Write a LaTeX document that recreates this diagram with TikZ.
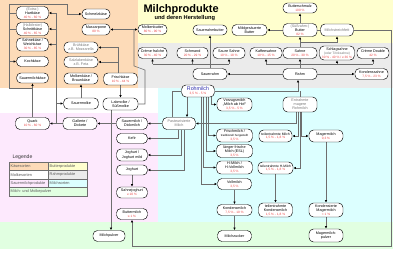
\documentclass[tikz,border=0pt]{standalone}
\usepackage{fontspec}
\setmainfont{Liberation Sans}
\usetikzlibrary{arrows.meta}
\definecolor{kaese}{RGB}{253,219,184}
\definecolor{butterc}{RGB}{255,255,206}
\definecolor{rahmc}{RGB}{235,235,235}
\definecolor{sauerc}{RGB}{253,233,253}
\definecolor{milchc}{RGB}{220,255,255}
\definecolor{pulverc}{RGB}{225,255,225}
\definecolor{pctred}{RGB}{235,70,70}
\definecolor{txtgray}{RGB}{120,120,120}
\definecolor{lncol}{RGB}{110,110,110}
\definecolor{rohblue}{RGB}{40,40,170}
\definecolor{legborder}{RGB}{110,110,110}
\definecolor{legtext}{RGB}{90,90,90}
\newcommand{\rpct}[1]{{\color{pctred}\fontsize{3.2}{3.6}\selectfont #1}}
\newcommand{\grtx}[1]{{\color{txtgray}#1}}
\pgfdeclarelayer{bg}
\pgfsetlayers{bg,main}
\begin{document}
\begin{tikzpicture}[x=1pt,y=-1pt,
  box/.style={draw=black,line width=0.45pt,fill=white,rounded corners=4.5pt,align=center,inner sep=0.5pt,font=\fontsize{3.7}{4.1}\selectfont,minimum height=11pt,minimum width=33pt},
  ln/.style={draw=lncol,line width=0.55pt},
  arr/.style={ln,-{Latex[length=2.6pt,width=2.4pt,color=black]}},
  legcell/.style={draw=legborder,line width=0.4pt,anchor=north west,minimum height=8.5pt,inner xsep=1.5pt,inner ysep=0pt,text width=36pt,align=left,font=\fontsize{3.9}{4.2}\selectfont,text=legtext}]
\useasboundingbox (0,0) rectangle (400,253);
% title
\node[anchor=base west,font=\fontsize{11}{11}\selectfont\bfseries] (title) at (140,12.5) {Milchprodukte};
\node[anchor=base west,font=\fontsize{5.7}{6}\selectfont\bfseries] (subtitle) at (151,19.5) {und deren Herstellung};
% cheese
\node[box,minimum width=32pt,minimum height=13pt] (hart) at (32.5,13) {\grtx{(Extra-)}\\Hartkäse\\\rpct{40 \% - 60 \%}};
\node[box,minimum width=32pt,minimum height=13pt] (schnitt) at (32.5,29) {\grtx{(Halbfester)}\\Schnittkäse\\\rpct{40 \% - 65 \%}};
\node[box,minimum width=32pt,minimum height=13pt] (weich) at (32.5,44.5) {Sahnekäse /\\Weichkäse\\\rpct{30 \% - 85 \%}};
\node[box,minimum width=32pt,minimum height=10pt] (koch) at (32.5,61.5) {Kochkäse};
\node[box,minimum width=32pt,minimum height=10pt] (sauerkaese) at (32.5,78) {Sauermilchkäse};
\node[box,minimum width=28pt,minimum height=10pt] (schmelz) at (96,14) {Schmelzkäse};
\node[box,minimum width=28pt,minimum height=11pt] (mascarpone) at (96,29.5) {Mascarpone\\\rpct{80 \%}};
\node[box,minimum width=34pt] (bruehkaese) at (81,47.5) {\grtx{Brühkäse}\\\grtx{z.B. Mozzarella}};
\node[box,minimum width=34pt] (salzlake) at (81,62) {\grtx{Salzlakenkäse}\\\grtx{z.B. Feta}};
\node[box,minimum width=34pt] (molkenkaese) at (81,78.5) {Molkenkäse /\\Braunkäse};
\node[box,minimum width=34pt,minimum height=12pt] (frischkaese) at (120.5,79) {Frischkäse\\\rpct{10 \% - 44 \%}};
% whey
\node[box,minimum width=35pt] (sauermolke) at (81,103.5) {Sauermolke};
\node[box,minimum width=35pt,minimum height=12pt] (labmolke) at (120.5,104) {Labmolke /\\Süßmolke};
% sour milk
\node[box,minimum width=34pt,minimum height=12pt] (quark) at (32.5,123.5) {Quark\\\rpct{10 \% - 60 \%}};
\node[box,minimum width=34pt,minimum height=12pt] (gallerte) at (80,123.5) {Gallerte /\\Dickete};
\node[box,minimum width=31pt,minimum height=12pt] (sauermilch) at (132,123.5) {Sauermilch /\\Dickmilch};
\node[box,minimum width=31pt,minimum height=10pt] (kefir) at (132,138.5) {Kefir};
\node[box,minimum width=31pt,minimum height=12pt] (joghurtmild) at (132,155) {Joghurt /\\Joghurt mild};
\node[box,minimum width=31pt,minimum height=10pt] (joghurt) at (132,170) {Joghurt};
\node[box,minimum width=31pt] (sahnejoghurt) at (132,192.5) {Sahnejoghurt\\\rpct{≥ 10 \%}};
\node[box,minimum width=31pt] (buttermilch) at (132,214) {Buttermilch\\\rpct{≤ 1 \%}};
\node[box,minimum width=32pt] (mpulver) at (109,236) {Milchpulver};
% butter
\node[box,minimum width=29pt,minimum height=10pt] (molkenbutter) at (152.5,29.5) {Molkenbutter\\\rpct{80 \% - 90 \%}};
\node[box,minimum width=34pt,minimum height=10pt] (sauerrahmbutter) at (210,30) {Sauerrahmbutter};
\node[box,minimum width=35pt] (mildbutter) at (249.5,30) {Mildgesäuerte\\Butter};
\node[box,minimum width=34pt,minimum height=10pt] (butterschmalz) at (300,8) {Butterschmalz\\\rpct{100 \%}};
\node[box,minimum width=34pt,minimum height=13pt] (butter) at (300,30) {\grtx{(Süßrahm-)}\\Butter\\\rpct{82 \%}};
\node[box,minimum width=33pt,minimum height=12pt] (streichfett) at (337,30) {\grtx{Milchstreichfett}};
% cream
\node[box,minimum width=29pt] (cremefraiche) at (152.5,53) {Crème fraîche\\\rpct{30 \% - 40 \%}};
\node[box,minimum width=31pt] (schmand) at (192.5,53) {Schmand\\\rpct{20 \% - 29 \%}};
\node[box,minimum width=32pt] (sauresahne) at (229,53) {Saure Sahne\\\rpct{10 \% - 18 \%}};
\node[box,minimum width=32pt] (kaffeesahne) at (266,53) {Kaffeesahne\\\rpct{10 \% - 15 \%}};
\node[box,minimum width=34pt] (sahne) at (300,53) {Sahne\\\rpct{20 \% - 30 \%}};
\node[box,minimum width=35pt,minimum height=14pt] (schlagsahne) at (337,53) {Schlagsahne\\{\fontsize{3.3}{3.7}\selectfont\grtx{(oder Trinksahne)}}\\\rpct{30 \% - 40 \% / ≥ 36 \%}};
\node[box,minimum width=32pt] (cremedouble) at (373,53) {Crème Double\\\rpct{42 \%}};
\node[box,minimum width=34pt] (sauerrahm) at (210,74) {Sauerrahm};
\node[box,minimum width=34pt] (rahm) at (300,74) {Rahm};
\node[box,minimum width=33pt] (kondenssahne) at (371.5,74) {Kondenssahne\\\rpct{7,5 \% - 23 \%}};
% milk
\node[box,minimum width=33pt,minimum height=12pt] (rohmilch) at (198,91) {{\color{rohblue}\fontsize{5.3}{5.6}\selectfont Rohmilch}\\\rpct{3,5 \% - 5 \%}};
\node[box,minimum width=35pt,minimum height=13pt] (vorzugsmilch) at (234.5,104.5) {Vorzugsmilch\\„Milch ab Hof“\\\rpct{3,5 \% - 5 \%}};
\node[box,minimum width=34pt,minimum height=15pt] (entrahmt) at (300,104.5) {\grtx{Entrahmte}\\\grtx{magere}\\\grtx{Rohmilch}};
\node[box,minimum width=33pt,minimum height=12pt] (pasteurisiert) at (179,123.5) {\grtx{Pasteurisierte}\\\grtx{Milch}};
\node[box,minimum width=36pt,minimum height=13pt] (frischmilch) at (234.5,135.5) {Frischmilch /\\{\fontsize{2.9}{3.3}\selectfont traditionell hergestellt}\\\rpct{3,5 \%}};
\node[box,minimum width=33pt,minimum height=12pt,font=\fontsize{3.4}{3.9}\selectfont] (teilmilch) at (275.5,136) {teilentrahmte Milch\\\rpct{1,5 \% - 1,8 \%}};
\node[box,minimum width=34pt,minimum height=12pt] (magermilch) at (326,136) {Magermilch\\\rpct{0,3 \%}};
\node[box,minimum width=36pt,minimum height=13pt] (esl) at (234.5,151) {länger frische\\Milch (ESL)\\\rpct{3,5 \%}};
\node[box,minimum width=36pt,minimum height=13pt] (hmilch) at (234.5,167.5) {H-Milch /\\H-Vollmilch\\\rpct{3,5 \%}};
\node[box,minimum width=35pt,minimum height=12pt,font=\fontsize{3.3}{3.9}\selectfont] (teilhmilch) at (275.5,168) {teilentrahmte H-Milch\\\rpct{1,5 \% - 1,8 \%}};
\node[box,minimum width=34pt] (vollmilch) at (234.5,184) {Vollmilch\\\rpct{3,5 \%}};
\node[box,minimum width=35pt] (kondensmilch) at (234.5,210) {Kondensmilch\\\rpct{7,5 \% - 10 \%}};
\node[box,minimum width=34pt,minimum height=14pt] (teilkondens) at (275.5,210) {teilentrahmte\\Kondensmilch\\\rpct{1,5 \% - 1,8 \%}};
\node[box,minimum width=34pt,minimum height=14pt] (kondensmager) at (326,210) {Kondensierte\\Magermilch\\\rpct{< 1 \%}};
\node[box,minimum width=34pt] (milchzucker) at (234.5,236) {Milchzucker};
\node[box,minimum width=34pt,minimum height=13pt] (magerpulver) at (326,235.5) {Magermilch-\\pulver};
% legend
\node[anchor=base west,font=\fontsize{5.1}{6}\selectfont,text=black!80] (legende) at (9,159) {Legende};
\node[legcell,fill=kaese] (l1) at (9,162) {Käsesorten};
\node[legcell,fill=butterc] (l2) at (48,162) {Butterprodukte};
\node[legcell,fill=white] (l3) at (9,170.5) {Molkesorten};
\node[legcell,fill=rahmc] (l4) at (48,170.5) {Rahmprodukte};
\node[legcell,fill=sauerc] (l5) at (9,179) {Sauermilchprodukte};
\node[legcell,fill=milchc] (l6) at (48,179) {Milchsorten};
\node[legcell,fill=pulverc,text width=75pt] (l7) at (9,187.5) {Milch- und Molkepulver};
\begin{pgfonlayer}{bg}
\fill[white] (0,0) rectangle (400,253);
\fill[kaese] (0,0) rectangle (138,88);
\fill[butterc] (138,0) rectangle (393,43);
\fill[rahmc] (138,43) rectangle (393,88);
\fill[sauerc] (0,113) rectangle (158,222);
\fill[milchc] (158,88) rectangle (393,222);
\fill[pulverc] (0,222) rectangle (393,249);
% cheese connectors
\coordinate (tl) at (9,4);
\draw[ln] (hart.west) -- (hart.west -| tl);
\draw[ln] (schnitt.west) -- (schnitt.west -| tl);
\draw[arr] (quark.north) |- (9,88) -- (tl) -- (67,4) |- (schmelz.west);
\draw[arr] (koch.west -| tl) -- (koch.west);
\draw[arr] (quark.north) -- (sauerkaese.south);
\coordinate (tg) at (56,123.5);
\draw[arr] (gallerte.west) -- (quark.east);
\draw[ln] (tg) -- (56,13);
\draw[arr] (hart.east -| tg) -- (hart.east);
\draw[arr] (schnitt.east -| tg) -- (schnitt.east);
\draw[arr] (weich.east -| tg) -- (weich.east);
\draw[arr] (sauermolke.west -| tg) -- (sauermolke.west);
\draw[arr] (sauermilch.west) -- (gallerte.east);
\draw[arr] (pasteurisiert.west) -- (sauermilch.east);
\draw[arr] ([xshift=-1pt]pasteurisiert.south) |- (kefir.east);
\draw[arr] ([xshift=2pt]pasteurisiert.south) |- (joghurtmild.east);
\draw[arr] ([xshift=5pt]pasteurisiert.south) |- (joghurt.east);
\draw[arr] (joghurt.south) -- (sahnejoghurt.north);
\draw[arr] ([xshift=-9.5pt]labmolke.south) -- ([xshift=2pt]mpulver.north);
\draw[arr] (frischkaese.south) -- (labmolke.north);
\draw[arr] ([xshift=-2.5pt]frischkaese.north) |- (bruehkaese.east);
\draw[arr] ([xshift=-2.5pt]frischkaese.north) |- (salzlake.east);
\draw[arr] (sauermolke.north) -- (molkenkaese.south);
\coordinate (mb) at (134,29.5);
\draw[ln] (labmolke.east) -- (145,104) -- (145,70) -- (134,66) -- (mb);
\draw[arr] (mb) -- (mascarpone.east);
\draw[arr] (mb) -- (molkenbutter.west);
% cream connectors
\coordinate (sr) at (210,64);
\draw[ln] (sauerrahm.north) -- (sr);
\draw[ln] (cremefraiche.south |- sr) -- (sauresahne.south |- sr);
\draw[arr] (cremefraiche.south |- sr) -- (cremefraiche.south);
\draw[arr] (schmand.south |- sr) -- (schmand.south);
\draw[arr] (sauresahne.south |- sr) -- (sauresahne.south);
\draw[arr] (sauerrahm.north) -- (sauerrahmbutter.south);
\draw[arr] (rahm.west) -- (sauerrahm.east);
\draw[arr] (rahm.east) -- (kondenssahne.west);
\coordinate (rr) at (300,64);
\draw[ln] (rahm.north) -- (rr);
\draw[ln] (kaffeesahne.south |- rr) -- (cremedouble.south |- rr);
\draw[arr] (kaffeesahne.south |- rr) -- (kaffeesahne.south);
\draw[arr] (rr) -- (sahne.south);
\draw[arr] (schlagsahne.south |- rr) -- (schlagsahne.south);
\draw[arr] (cremedouble.south |- rr) -- (cremedouble.south);
% butter connectors
\coordinate (bj) at (300,42);
\draw[arr] (sahne.north) -- (butter.south);
\draw[arr] (bj) -| (streichfett.south);
\draw[arr] (butter.north) -- (butterschmalz.south);
\draw[arr] (butter.west) -- (mildbutter.east);
\draw[arr] (butter.east) -- (391,30) -- (391,246) -| (buttermilch.south);
% milk connectors
\draw[arr] (rohmilch.east) -| ([xshift=-2pt]rahm.south);
\draw[ln] (entrahmt.north) -- (entrahmt.north |- rohmilch.east);
\draw[arr] ([xshift=-4pt]entrahmt.south) |- (pasteurisiert.east);
\draw[arr] ([xshift=-1.5pt]entrahmt.south) |- (teilmilch.east);
\draw[arr] ([xshift=1.5pt]entrahmt.south) |- (magermilch.west);
\draw[arr] (entrahmt.south) |- (teilhmilch.east);
\draw[arr] (magermilch.south) -- (kondensmager.north);
\draw[arr] (kondensmager.south) -- (magerpulver.north);
\draw[arr] (teilhmilch.south) -- (teilkondens.north);
\draw[arr] ([xshift=13pt]rohmilch.south) |- (vorzugsmilch.west);
\draw[arr] ([xshift=10.5pt]rohmilch.south) |- (frischmilch.west);
\draw[arr] ([xshift=8pt]rohmilch.south) |- (esl.west);
\draw[arr] ([xshift=5.5pt]rohmilch.south) |- (hmilch.west);
\draw[arr] ([xshift=3pt]rohmilch.south) |- (vollmilch.west);
\draw[arr] ([xshift=-11pt]rohmilch.south) -- ([xshift=8pt]pasteurisiert.north);
\draw[ln] (rohmilch.west) -| ([xshift=-7pt]pasteurisiert.north);
\draw[arr] (vollmilch.south) -- (kondensmilch.north);
\draw[arr] (kondensmilch.south) -- (milchzucker.north);
\end{pgfonlayer}
\end{tikzpicture}
\end{document}
